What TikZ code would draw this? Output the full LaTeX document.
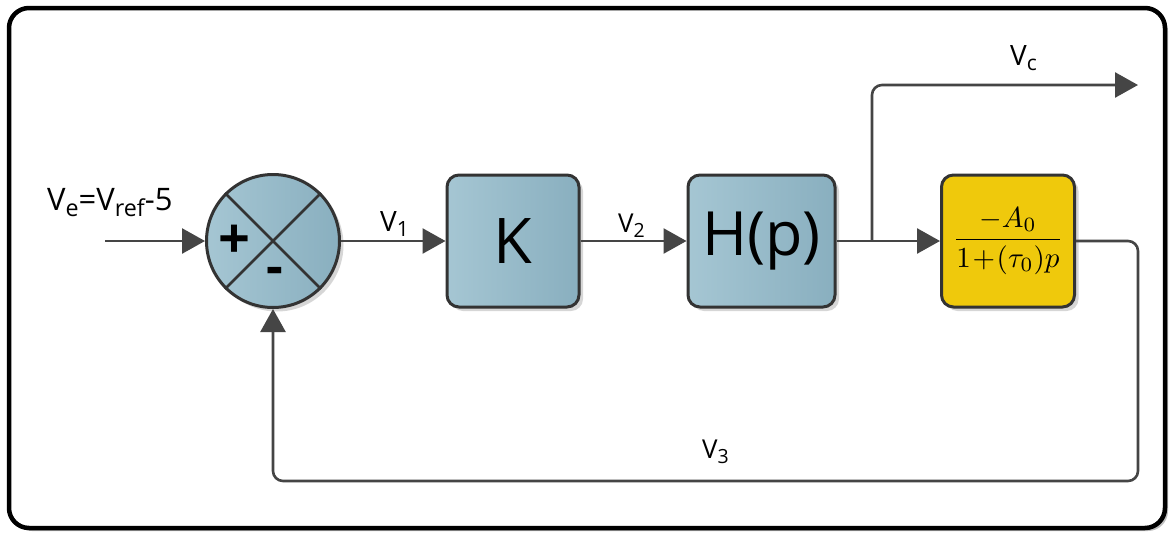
\documentclass[tikz,border=0pt]{standalone}
\usepackage{fontspec}
\setmainfont{Open Sans}
\usetikzlibrary{arrows.meta,shadows}
\definecolor{boxA}{HTML}{A5C6D3}
\definecolor{boxB}{HTML}{89AFBF}
\definecolor{edgec}{HTML}{333333}
\definecolor{wirec}{HTML}{454545}
\definecolor{yel}{HTML}{EFC90C}
\newcommand\lsub[1]{\raisebox{-0.2em}{\scalebox{0.75}{#1}}}
\newcommand\fs[1]{\fontsize{#1}{#1}\selectfont}
\begin{document}
\begin{tikzpicture}[x=1pt,y=-1pt,
  wire/.style={draw=wirec,line width=2.6pt},
  arr/.style={wire,-{Triangle[length=23pt,width=25pt]}},
  shd/.style={drop shadow={shadow xshift=4pt,shadow yshift=-4pt,fill=black,opacity=0.16}},
  block/.style={draw=edgec,line width=3pt,rounded corners=12pt,left color=boxA,right color=boxB,shd,inner sep=0pt},
  lbl/.style={anchor=base west,inner sep=0pt,text=black}]
\useasboundingbox (0,0) rectangle (1171,533);
\draw[line width=4.5pt,rounded corners=20pt,fill=white,drop shadow={shadow xshift=3pt,shadow yshift=-3pt,fill=black,opacity=0.25}] (9,8) rectangle (1165,528);
% blocks
\node[circle,draw=edgec,line width=3pt,left color=boxA,right color=boxB,shd,minimum size=133pt,inner sep=0pt] (s) at (273,241) {};
\draw[draw=edgec,line width=2.6pt] (s.north west) -- (s.south east) (s.north east) -- (s.south west);
\node[inner sep=0pt] (plus) at (234,242) {\fs{56}\bfseries +};
\node[inner sep=0pt] (minus) at (275,276) {\fs{52}\bfseries -};
\node[block,minimum width=132pt,minimum height=132pt] (K) at (513,241) {\fs{63}K};
\node[block,minimum width=147pt,minimum height=132pt] (H) at (761.5,241) {\fs{61}H(p)};
\node[draw=edgec,line width=3pt,rounded corners=12pt,fill=yel,shd,minimum width=133pt,minimum height=132pt,inner sep=0pt] (G) at (1008,241) {\scalebox{2.9}{$\displaystyle\frac{-A_0}{1\!+\!(\tau_0)p}$}};
% connectors
\coordinate (in) at (105,241);
\coordinate (br) at (872,241);
\coordinate (vc) at (1138,85);
\coordinate (fbR) at (1138,481);
\draw[arr] (in) -- (s.west);
\draw[arr] (s.east) -- (K.west);
\draw[arr] (K.east) -- (H.west);
\draw[wire] (H.east) -- (br);
\draw[arr] (br) -- (G.west);
\draw[arr,rounded corners=10pt] (br) |- (vc);
\draw[arr,rounded corners=10pt] (G.east) -| (fbR) -| (s.south);
% labels
\node[lbl] (lve) at (47,210) {\fs{31}V\lsub{e}=V\lsub{ref}-5};
\node[lbl] (lv1) at (380,231) {\fs{28}V\lsub{1}};
\node[lbl] (lv2) at (618,232) {\fs{26}V\lsub{2}};
\node[lbl] (lvc) at (1010,65) {\fs{28}V\lsub{c}};
\node[lbl] (lv3) at (702,458) {\fs{26}V\lsub{3}};
\end{tikzpicture}
\end{document}
